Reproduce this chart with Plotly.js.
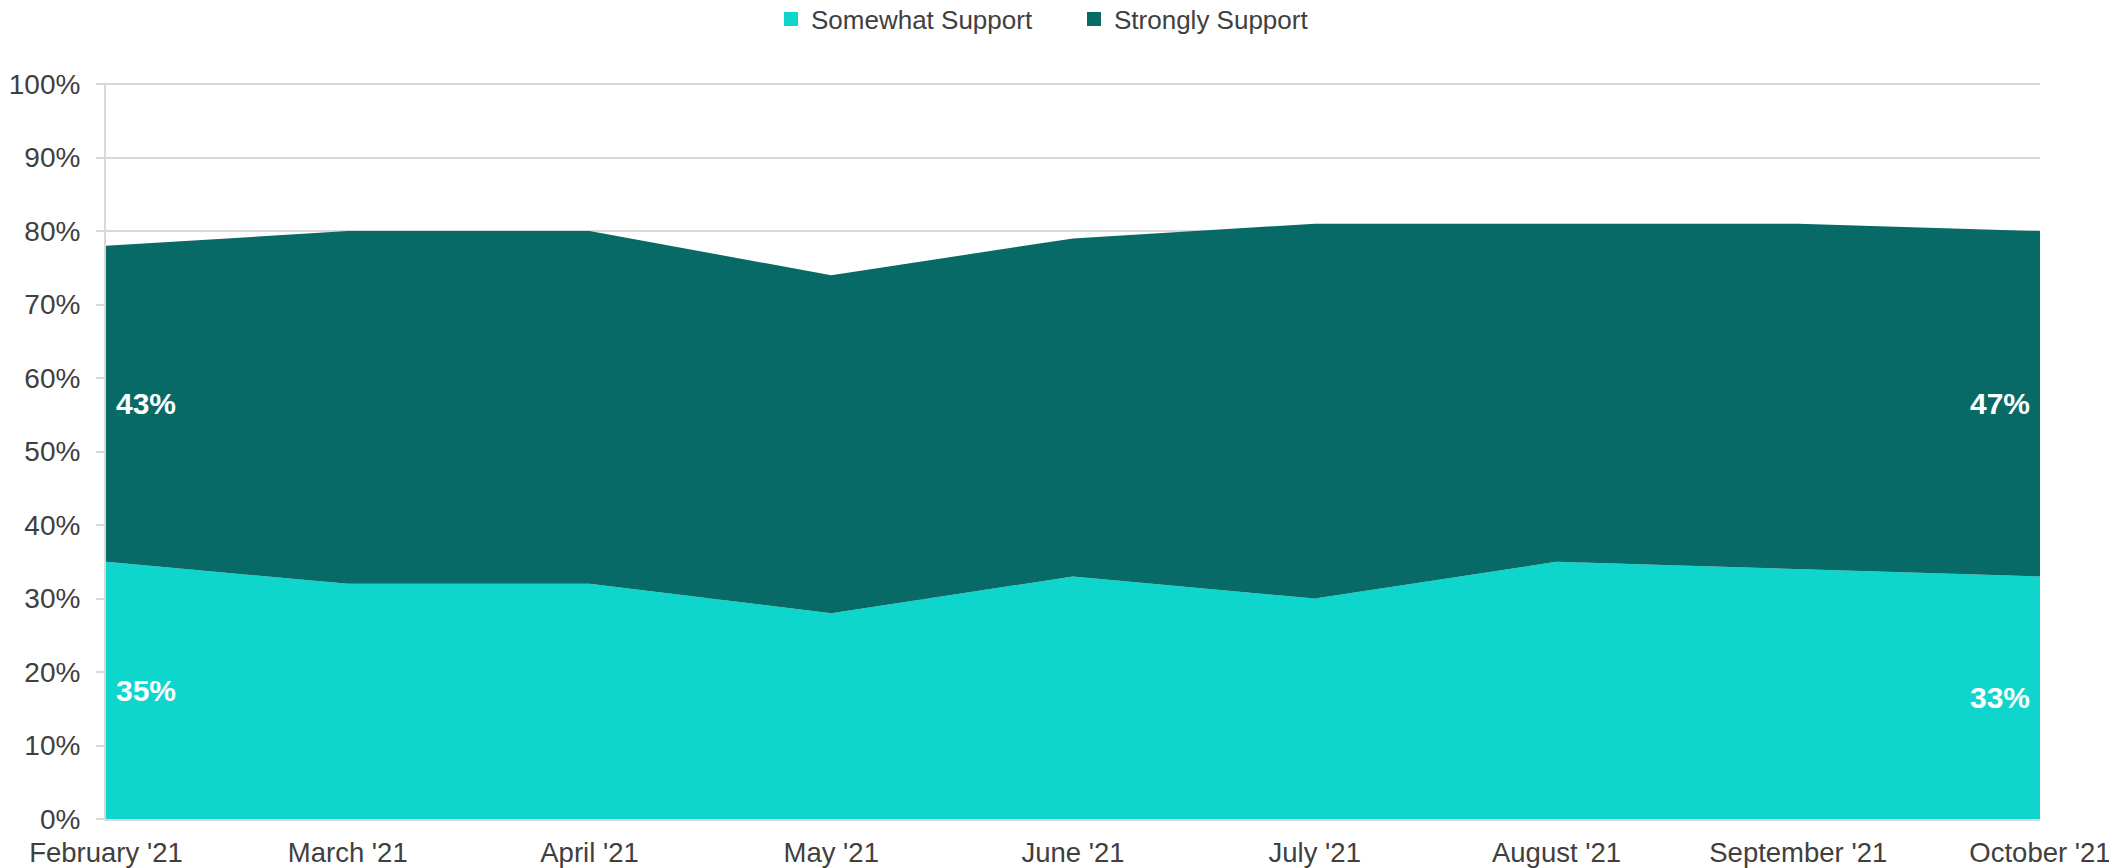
<!DOCTYPE html>
<html>
<head>
<meta charset="utf-8">
<script src="https://cdn.plot.ly/plotly-3.0.1.min.js"></script>
<style>html,body{margin:0;padding:0;background:#fff;}#chart{width:2109px;height:868px;}</style>
</head>
<body>
<div id="chart"></div>
<script>
const months = ["February '21", "March '21", "April '21", "May '21", "June '21", "July '21", "August '21", "September '21", "October '21"];
const somewhatSupport = [35, 32, 32, 28, 33, 30, 35, 34, 33];
const stronglySupport = [43, 48, 48, 46, 46, 51, 46, 47, 47];
const seriesNames = ["Somewhat Support", "Strongly Support"];
const seriesColors = ["#0ED6CD", "#076A66"];

const FONT = "Liberation Sans, Arial, sans-serif";
const TXT = "#404040";

const traces = [
  {type: "scatter", x: months, y: somewhatSupport, name: seriesNames[0], stackgroup: "one",
   mode: "lines", line: {width: 0, color: seriesColors[0]}, fillcolor: seriesColors[0], showlegend: false, hoverinfo: "skip"},
  {type: "scatter", x: months, y: stronglySupport, name: seriesNames[1], stackgroup: "one",
   mode: "lines", line: {width: 0, color: seriesColors[1]}, fillcolor: seriesColors[1], showlegend: false, hoverinfo: "skip"},
  {type: "scatter", x: [null], y: [null], name: seriesNames[0], mode: "markers", legend: "legend",
   marker: {symbol: "square", size: 14, color: seriesColors[0]}, showlegend: true, hoverinfo: "skip"},
  {type: "scatter", x: [null], y: [null], name: seriesNames[1], mode: "markers", legend: "legend2",
   marker: {symbol: "square", size: 14, color: seriesColors[1]}, showlegend: true, hoverinfo: "skip"}
];

const first = 0, last = months.length - 1;
const labelFont = {family: FONT, size: 30, color: "#ffffff", weight: "bold"};
const annotations = [
  {x: months[first], y: somewhatSupport[first] / 2, text: "<b>" + somewhatSupport[first] + "%</b>", xanchor: "left", xshift: 8},
  {x: months[first], y: somewhatSupport[first] + stronglySupport[first] / 2, text: "<b>" + stronglySupport[first] + "%</b>", xanchor: "left", xshift: 8},
  {x: months[last], y: somewhatSupport[last] / 2, text: "<b>" + somewhatSupport[last] + "%</b>", xanchor: "right", xshift: -8},
  {x: months[last], y: somewhatSupport[last] + stronglySupport[last] / 2, text: "<b>" + stronglySupport[last] + "%</b>", xanchor: "right", xshift: -8}
].map(a => Object.assign({xref: "x", yref: "y", showarrow: false, yanchor: "middle", font: labelFont}, a));

const legendCommon = {orientation: "h", xref: "container", yref: "container", xanchor: "left", y: 1 - 19 / 868, yanchor: "middle",
  font: {family: FONT, size: 26, color: TXT}, itemwidth: 30, bgcolor: "rgba(0,0,0,0)", borderwidth: 0};

const layout = {
  width: 2109, height: 868,
  margin: {l: 106, r: 69, t: 83, b: 49, pad: 0, autoexpand: false},
  paper_bgcolor: "#ffffff", plot_bgcolor: "#ffffff",
  font: {family: FONT, size: 27, color: TXT},
  showlegend: true,
  legend: Object.assign({}, legendCommon, {x: 771 / 2109}),
  legend2: Object.assign({}, legendCommon, {x: 1074 / 2109}),
  xaxis: {type: "category", range: [0, last], showgrid: false, showline: true, linecolor: "#d9d9d9", linewidth: 2,
          ticks: "", ticklabelstandoff: 8, tickfont: {family: FONT, size: 27.5, color: TXT}, fixedrange: true, zeroline: false},
  yaxis: {range: [0, 100.15], tickmode: "linear", tick0: 0, dtick: 10, ticksuffix: "%", showgrid: true, gridcolor: "#d9d9d9", gridwidth: 2,
          showline: true, linecolor: "#d9d9d9", linewidth: 2, ticks: "outside", ticklen: 8, tickcolor: "#d9d9d9", tickwidth: 2,
          ticklabelstandoff: 10,
          tickfont: {family: FONT, size: 28, color: TXT}, zeroline: false, fixedrange: true},
  annotations: annotations
};

Plotly.newPlot("chart", traces, layout, {displayModeBar: false, staticPlot: true});
</script>
</body>
</html>
